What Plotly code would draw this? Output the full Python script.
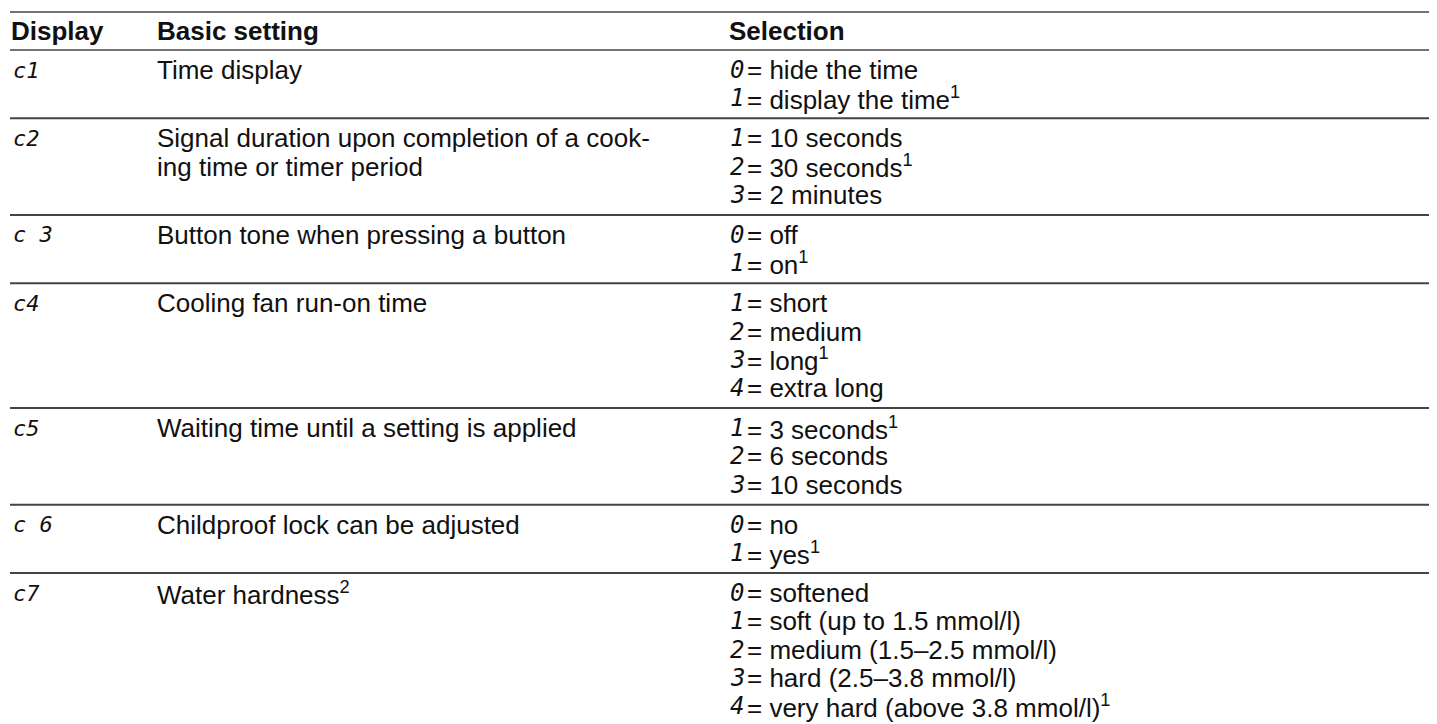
import plotly.graph_objects as go

# ---- table content ----
headers = ["Display", "Basic setting", "Selection"]
displays = ["c1", "c2", "c 3", "c4", "c5", "c 6", "c7"]
settings = [
    ["Time display"],
    ["Signal duration upon completion of a cook-", "ing time or timer period"],
    ["Button tone when pressing a button"],
    ["Cooling fan run-on time"],
    ["Waiting time until a setting is applied"],
    ["Childproof lock can be adjusted"],
    ["Water hardness<sup>2</sup>"],
]
sel_codes = [
    ["0", "1"],
    ["1", "2", "3"],
    ["0", "1"],
    ["1", "2", "3", "4"],
    ["1", "2", "3"],
    ["0", "1"],
    ["0", "1", "2", "3", "4"],
]
sel_texts = [
    ["hide the time", "display the time<sup>1</sup>"],
    ["10 seconds", "30 seconds<sup>1</sup>", "2 minutes"],
    ["off", "on<sup>1</sup>"],
    ["short", "medium", "long<sup>1</sup>", "extra long"],
    ["3 seconds<sup>1</sup>", "6 seconds", "10 seconds"],
    ["no", "yes<sup>1</sup>"],
    ["softened", "soft (up to 1.5 mmol/l)", "medium (1.5\u20132.5 mmol/l)",
     "hard (2.5\u20133.8 mmol/l)", "very hard (above 3.8 mmol/l)<sup>1</sup>"],
]

# ---- layout / style ----
W, H = 1437, 724
OFF = 8  # page body margin
X_DISP, X_SET, X_SEL_DIGIT, X_SEL_TEXT = 11, 155, 737, 745
X_LEFT = 10
TOP_RULE, HEAD_TEXT, HEAD_RULE = 12, 31, 50
PITCH, PAD = 28.3, 20
FONT = "Liberation Sans, Arial, Helvetica, sans-serif"
DIGIT_FONT = "DejaVu Sans Mono, Liberation Mono, monospace"
FS = 26
TXT = "#111111"
RULE = "#444444"

fig = go.Figure()
fig.add_trace(go.Scatter(x=[OFF, W], y=[OFF, H], mode="markers",
                         marker=dict(opacity=0), hoverinfo="skip", showlegend=False))

annotations = []
shapes = []

def ann(x, y, text, bold=False, italic=False, font=FONT, size=FS, xanchor="left"):
    t = text
    if bold:
        t = "<b>" + t + "</b>"
    if italic:
        t = "<i>" + t + "</i>"
    annotations.append(dict(x=x, y=y, xref="x", yref="y", text=t, showarrow=False,
                            xanchor=xanchor, yanchor="middle",
                            font=dict(family=font, size=size, color=TXT)))

def rule(y, width=1.6):
    shapes.append(dict(type="line", xref="x", yref="y", x0=X_LEFT, x1=W + 2, y0=y, y1=y,
                       line=dict(color=RULE, width=width)))

rule(TOP_RULE)
for xh, h in zip([X_DISP - 2, X_SET, X_SEL_DIGIT - 10], headers):
    ann(xh, HEAD_TEXT, h, bold=True)
rule(HEAD_RULE, 1.4)

top = HEAD_RULE
for d, s_lines, codes, texts in zip(displays, settings, sel_codes, sel_texts):
    n = max(len(s_lines), len(codes))
    first = top + PAD
    ann(X_DISP, first, d, italic=True, font=DIGIT_FONT, size=FS - 4)
    for k, s in enumerate(s_lines):
        ann(X_SET, first + k * PITCH, s)
    for k, (c, t) in enumerate(zip(codes, texts)):
        yk = first + k * PITCH
        ann(X_SEL_DIGIT, yk, c, italic=True, font=DIGIT_FONT, size=FS - 2, xanchor="center")
        ann(X_SEL_TEXT, yk, "= " + t)
    top = first + (n - 1) * PITCH + PAD
    rule(top, 2)

fig.update_layout(
    width=W - OFF, height=H - OFF,
    margin=dict(l=0, r=0, t=0, b=0),
    paper_bgcolor="white", plot_bgcolor="white",
    xaxis=dict(range=[OFF, W], visible=False, fixedrange=True),
    yaxis=dict(range=[H, OFF], visible=False, fixedrange=True),
    annotations=annotations, shapes=shapes,
    showlegend=False,
)
fig.write_html("out.html", config={"displayModeBar": False})
